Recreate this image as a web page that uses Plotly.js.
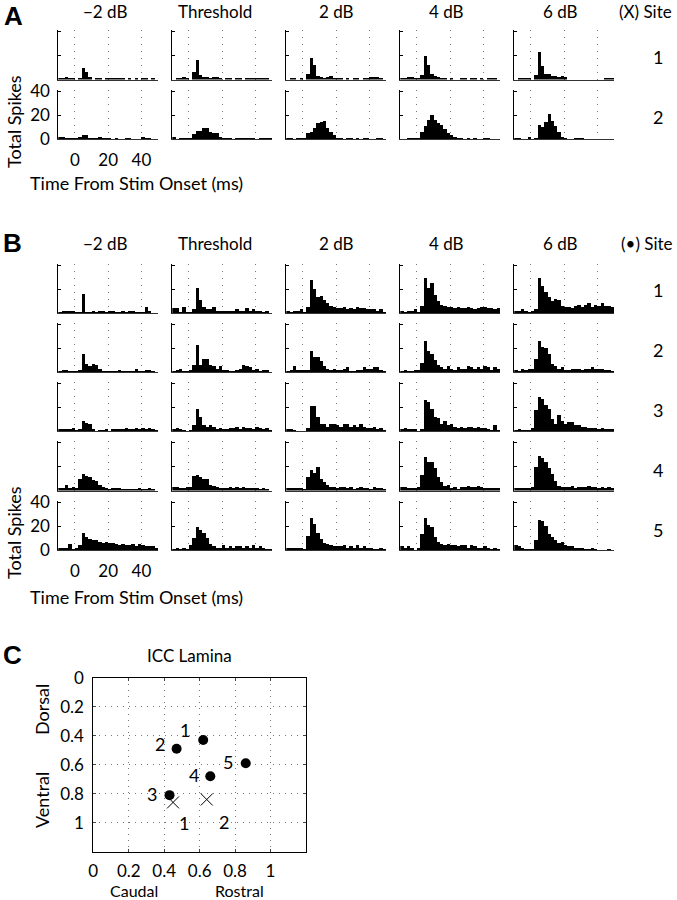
<!DOCTYPE html>
<html><head><meta charset="utf-8">
<script src="https://cdn.plot.ly/plotly-3.0.1.min.js"></script>
<style>html,body{margin:0;padding:0;background:#fff}</style>
</head><body>
<div id="chart" style="width:677px;height:900px"></div>
<script>
// ---------- DATA ----------
const levels = ['\u22122 dB', 'Threshold', '2 dB', '4 dB', '6 dB'];
// bin centres (ms), 2 ms bins from -10 to 50
const timeBins = [-9,-7,-5,-3,-1,1,3,5,7,9,11,13,15,17,19,21,23,25,27,29,31,33,35,37,39,41,43,45,47,49];
// Panel A, (X) sites: one array per level
const aSiteX1 = [
  [1,1,2,1,1,0,1,10,6,2,0,1,1,0,1,1,1,1,1,1,0,1,0,1,0,1,1,0,1,0],
  [0,1,1,2,1,0,6,16,4,2,2,1,2,2,1,0,1,1,0,1,1,0,1,1,1,1,1,1,1,0],
  [0,1,1,0,1,0,5,18,12,3,2,1,2,3,1,1,1,0,1,0,1,1,0,1,1,2,2,2,1,0],
  [1,1,2,2,1,1,4,20,12,5,3,2,1,1,0,1,0,0,1,1,0,1,1,0,1,0,1,1,1,0],
  [0,1,1,1,1,0,4,23,11,5,5,3,3,2,3,2,0,0,0,0,0,0,0,0,0,0,0,1,1,1]
];
const aSiteX2 = [
  [2,2,1,1,1,1,2,3,3,1,1,1,2,1,1,1,0,1,0,0,1,1,0,0,0,2,1,1,0,0],
  [2,0,1,1,1,1,4,7,7,9,9,6,5,5,2,1,1,1,0,1,1,1,1,1,1,0,1,1,1,1],
  [1,1,0,1,1,1,5,6,9,13,14,15,9,6,3,1,1,0,1,1,0,1,0,1,1,0,0,1,1,0],
  [0,0,1,1,1,1,6,11,16,20,16,13,12,8,5,3,2,1,1,0,1,0,1,0,0,1,1,0,0,0],
  [1,1,0,0,2,0,1,12,10,14,21,15,11,6,2,1,0,0,1,1,1,0,0,0,0,0,0,0,0,0]
];
// Panel B, (•) sites
const bSite1 = [
  [1,2,2,2,2,1,1,16,1,1,2,1,2,2,1,2,2,1,1,2,1,2,2,1,1,1,5,2,0,0],
  [4,4,1,5,1,1,3,21,11,5,3,3,5,2,2,2,2,2,2,3,2,2,4,2,3,2,2,1,2,0],
  [2,1,2,2,3,1,5,28,20,13,14,11,8,6,5,4,4,5,3,4,3,5,4,4,3,3,3,2,3,1],
  [2,1,2,2,3,1,6,29,21,25,15,10,7,6,5,5,4,5,4,4,5,4,3,4,5,5,4,4,3,4],
  [2,2,3,2,1,2,3,29,23,18,13,10,12,11,6,5,5,4,6,7,5,7,8,5,7,6,8,6,6,5]
];
const bSite2 = [
  [1,2,2,1,1,1,2,15,7,5,7,6,3,1,1,1,1,1,2,1,1,1,1,3,1,1,2,2,1,0],
  [1,2,3,1,1,2,6,23,6,11,11,6,5,3,5,2,2,1,1,2,3,6,5,4,2,3,1,2,2,0],
  [1,2,5,2,2,2,2,18,13,13,9,5,3,2,3,2,2,3,4,1,1,2,2,4,3,3,4,4,2,1],
  [1,2,1,1,2,2,8,26,18,15,10,6,4,3,5,3,2,4,3,3,5,4,3,4,3,5,4,2,4,3],
  [2,1,3,2,3,3,11,26,21,20,15,7,5,3,4,2,2,3,3,3,2,3,3,4,3,3,3,2,2,1]
];
const bSite3 = [
  [2,2,2,2,3,1,2,9,7,6,2,0,1,1,2,0,2,2,2,2,3,2,2,3,2,3,2,3,2,1],
  [2,3,2,1,0,1,5,19,12,5,4,5,4,2,3,2,2,3,3,4,2,4,3,3,2,4,3,2,3,1],
  [2,2,1,0,0,0,3,21,21,12,6,6,4,6,6,5,4,6,6,4,5,4,6,4,3,3,4,2,3,1],
  [2,3,2,2,2,0,2,26,25,19,12,11,6,9,5,6,4,3,4,3,4,4,3,4,3,3,2,1,5,1],
  [1,2,1,1,1,3,18,29,27,22,19,10,6,14,9,6,8,8,5,5,4,4,3,3,3,2,3,2,2,2]
];
const bSite4 = [
  [2,2,5,2,3,2,10,14,12,11,9,8,5,3,2,1,2,2,2,1,1,1,1,1,2,1,1,2,1,0],
  [3,3,2,2,3,3,12,13,11,10,10,5,4,3,2,2,2,3,2,3,2,3,2,2,2,2,1,2,1,0],
  [2,2,2,2,2,1,11,17,15,20,10,7,5,3,3,2,3,3,2,3,1,2,3,2,2,1,3,2,2,1],
  [3,3,2,2,2,3,13,28,24,24,19,11,7,4,5,2,3,1,3,3,4,3,3,4,3,2,2,2,2,2],
  [2,2,2,2,2,3,20,29,27,24,19,14,8,4,3,3,3,4,2,3,3,3,4,3,3,2,3,2,3,2]
];
const bSite5 = [
  [2,2,2,5,1,2,4,14,11,9,8,8,7,6,7,6,6,5,4,5,4,4,5,3,5,4,3,3,3,2],
  [1,2,1,2,1,4,10,19,17,14,10,5,3,2,2,4,2,3,2,3,3,2,3,2,4,2,3,2,1,1],
  [2,2,2,2,2,1,12,27,22,14,9,6,5,4,3,3,3,4,2,3,2,4,2,3,2,2,1,1,2,1],
  [3,2,3,2,0,2,13,27,21,19,11,7,5,4,5,4,4,3,4,4,2,4,3,2,2,3,2,1,2,1],
  [4,3,2,1,1,1,8,25,24,20,13,11,8,6,7,4,3,3,2,2,2,1,1,2,1,0,0,0,1,0]
];
const histTicks = [0, 20, 40];
// Panel C: lamina positions
const dotSites = ['1','2','3','4','5'];
const dotX = [0.62, 0.47, 0.43, 0.66, 0.86];
const dotY = [0.43, 0.49, 0.81, 0.68, 0.59];
const crossSites = ['1','2'];
const crossX = [0.45, 0.64];
const crossY = [0.86, 0.84];
const lamTicks = [0, 0.2, 0.4, 0.6, 0.8, 1];
const lamTickText = ['0','0.2','0.4','0.6','0.8','1'];

// ---------- LAYOUT ----------
const W = 677, H = 900;
const FONT = 'Lato';
const FS = 17, FT = 18;
const px = x => x / W, py = y => 1 - y / H;
const colLeft = [58.3, 172.3, 286.3, 400.3, 514.3];
const colW = 99.7, rowH = 49.5;
const rowBottomsA = [79.5, 139];
const rowBottomsB = [313, 372.2, 431.4, 490.6, 550];

const traces = [];
const layout = {
  width: W, height: H, margin: {l:0, r:0, t:0, b:0},
  paper_bgcolor: '#fff', plot_bgcolor: 'rgba(0,0,0,0)',
  showlegend: false, bargap: 0,
  font: {family: FONT, size: FS, color: '#000'},
  annotations: []
};
let k = 0;
function addPanel(vals, col, bottom, labelled) {
  k++;
  const xa = 'xaxis' + (k === 1 ? '' : k), ya = 'yaxis' + (k === 1 ? '' : k);
  const xr = 'x' + (k === 1 ? '' : k), yr = 'y' + (k === 1 ? '' : k);
  traces.push({type: 'bar', x: timeBins, y: vals, width: 2, xaxis: xr, yaxis: yr,
    marker: {color: '#000', line: {width: 0}}, hoverinfo: 'skip'});
  layout[xa] = {domain: [px(colLeft[col]), px(colLeft[col] + colW)], range: [-10, 50],
    anchor: yr, fixedrange: true, showgrid: true, gridcolor: '#777', griddash: '1px,6px', gridwidth: 1,
    tickvals: histTicks, showticklabels: labelled, ticks: '', zeroline: false,
    showline: true, linecolor: '#333', linewidth: 1, ticklabelstandoff: 6,
    tickfont: {family: FONT, size: FS}};
  layout[ya] = {domain: [py(bottom), py(bottom - rowH)], range: [0, 41.5],
    anchor: xr, fixedrange: true, showgrid: false, zeroline: false,
    tickvals: histTicks, showticklabels: labelled, ticks: 'inside', ticklen: 3, tickcolor: '#000',
    showline: true, linecolor: '#000', linewidth: 1, ticklabelstandoff: 4,
    tickfont: {family: FONT, size: FS}};
}
[aSiteX1, aSiteX2].forEach((site, r) => site.forEach((v, c) => addPanel(v, c, rowBottomsA[r], r === 1 && c === 0)));
[bSite1, bSite2, bSite3, bSite4, bSite5].forEach((site, r) => site.forEach((v, c) => addPanel(v, c, rowBottomsB[r], r === 4 && c === 0)));

// Panel C axes
k++;
const cx = 'x' + k, cy = 'y' + k;
layout['xaxis' + k] = {domain: [px(93.3), px(306)], range: [0, 1.2], anchor: cy, fixedrange: true,
  tickvals: lamTicks, ticktext: lamTickText, showgrid: true, gridcolor: '#777', griddash: '1px,5px',
  zeroline: false, showline: true, mirror: 'ticks', linecolor: '#000', ticks: 'inside', ticklen: 3,
  ticklabelstandoff: 4, tickfont: {family: FONT, size: FS}};
layout['yaxis' + k] = {domain: [py(851.7), py(677.7)], range: [1.2, 0], anchor: cx, fixedrange: true,
  tickvals: lamTicks, ticktext: lamTickText, showgrid: true, gridcolor: '#777', griddash: '1px,5px',
  zeroline: false, showline: true, mirror: 'ticks', linecolor: '#000', ticks: 'inside', ticklen: 3,
  ticklabelstandoff: 5, tickfont: {family: FONT, size: FS}};
traces.push({type: 'scatter', mode: 'markers', x: dotX, y: dotY, xaxis: cx, yaxis: cy,
  marker: {symbol: 'circle', size: 10, color: '#000'}, hoverinfo: 'skip'});
traces.push({type: 'scatter', mode: 'markers', x: crossX, y: crossY, xaxis: cx, yaxis: cy,
  marker: {symbol: 'x-thin-open', size: 12, color: '#000', line: {width: 1, color: '#000'}}, hoverinfo: 'skip'});
const dotShift = [[-18, 10], [-17, 5], [-18, 1], [-16, 1], [-18, 1]];
dotSites.forEach((s, i) => layout.annotations.push({xref: cx, yref: cy, x: dotX[i], y: dotY[i], text: s,
  showarrow: false, xshift: dotShift[i][0], yshift: dotShift[i][1], font: {size: FT}}));
const crossShift = [[11, -21], [17, -22]];
crossSites.forEach((s, i) => layout.annotations.push({xref: cx, yref: cy, x: crossX[i], y: crossY[i], text: s,
  showarrow: false, xshift: crossShift[i][0], yshift: crossShift[i][1], font: {size: FT}}));

// text annotations (paper)
function txt(t, x, y, opts) {
  layout.annotations.push(Object.assign({xref: 'paper', yref: 'paper', x: px(x), y: py(y), text: t,
    showarrow: false, xanchor: 'center', yanchor: 'middle', font: {family: FONT, size: FS, color: '#000'}}, opts || {}));
}
const titleX = [104.5, 215, 336, 446, 560];
levels.forEach((l, i) => { txt(l, titleX[i], 11); txt(l, titleX[i], 243); });
txt('(X) Site', 645, 11);
txt('(\u2022) Site', 647, 243);
['1','2'].forEach((s, i) => txt(s, 658, [57, 117][i], {font: {family: FONT, size: FT}}));
['1','2','3','4','5'].forEach((s, i) => txt(s, 658, [290, 350, 410, 470, 530][i], {font: {family: FONT, size: FT}}));
const bold = {family: 'Liberation Sans', size: 26, color: '#000'};
txt('<b>A</b>', 13, 16, {font: bold});
txt('<b>B</b>', 12, 243, {font: bold});
txt('<b>C</b>', 12, 655, {font: bold});
const big = {font: {family: FONT, size: FT, color: '#000'}};
txt('Total Spikes', 14, 122, Object.assign({textangle: -90}, big));
txt('Total Spikes', 14, 533, Object.assign({textangle: -90}, big));
txt('Time From Stim Onset (ms)', 136, 183, big);
txt('Time From Stim Onset (ms)', 136, 597, big);
txt('ICC Lamina', 190, 655);
txt('Dorsal', 42, 710, Object.assign({textangle: -90}, big));
txt('Ventral', 42, 800, Object.assign({textangle: -90}, big));
txt('Caudal', 134, 890, {font: {family: FONT, size: 16}, borderpad: 0});
txt('Rostral', 239, 890, {font: {family: FONT, size: 16}, borderpad: 0});

Plotly.newPlot('chart', traces, layout, {staticPlot: true, displayModeBar: false});
</script>
</body></html>
